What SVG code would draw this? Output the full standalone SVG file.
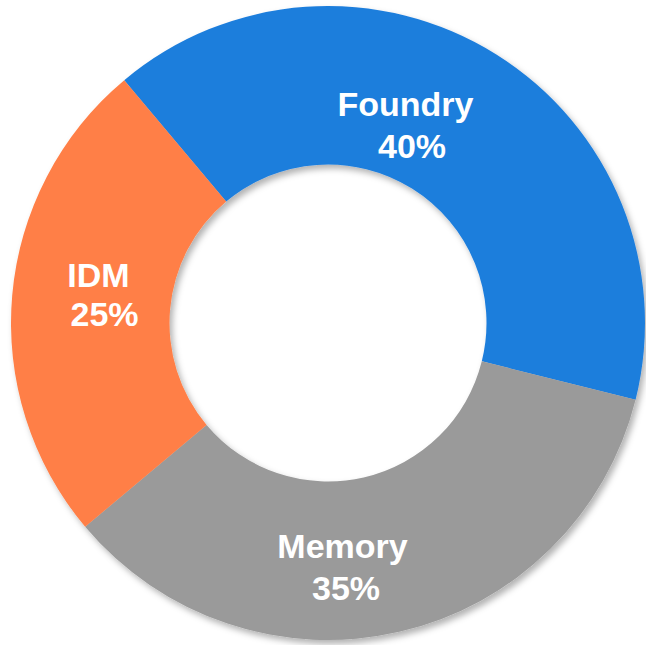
<svg xmlns="http://www.w3.org/2000/svg" width="646" height="645" viewBox="0 0 646 645">
<style>
.lbl{font-family:"Liberation Sans",Arial,sans-serif;font-weight:bold;font-size:34px;fill:#ffffff;text-anchor:middle}
</style>
<defs>
<filter id="sh" x="-10%" y="-10%" width="120%" height="120%">
<feDropShadow dx="3" dy="4" stdDeviation="3" flood-color="#000" flood-opacity="0.3"/>
</filter>
</defs>
<rect width="646" height="645" fill="#ffffff"/>
<g filter="url(#sh)">
<g id="foundry"><path d="M 124.23 80.17 A 317 317 0 0 1 635.58 399.69 L 481.79 361.34 A 158.5 158.5 0 0 0 226.12 201.58 Z" fill="#1F7EDC"/></g>
<g id="memory"><path d="M 635.58 399.69 A 317 317 0 0 1 85.17 526.77 L 206.58 424.88 A 158.5 158.5 0 0 0 481.79 361.34 Z" fill="#9A9A9A"/></g>
<g id="idm"><path d="M 85.17 526.77 A 317 317 0 0 1 124.23 80.17 L 226.12 201.58 A 158.5 158.5 0 0 0 206.58 424.88 Z" fill="#FF7F46"/></g>
</g>
<g id="labels">
<text class="lbl" x="405.5" y="116">Foundry</text>
<text class="lbl" x="412" y="158">40%</text>
<text class="lbl" x="98.5" y="287">IDM</text>
<text class="lbl" x="104.5" y="326">25%</text>
<text class="lbl" x="342.5" y="558">Memory</text>
<text class="lbl" x="346" y="600">35%</text>
</g>
</svg>
